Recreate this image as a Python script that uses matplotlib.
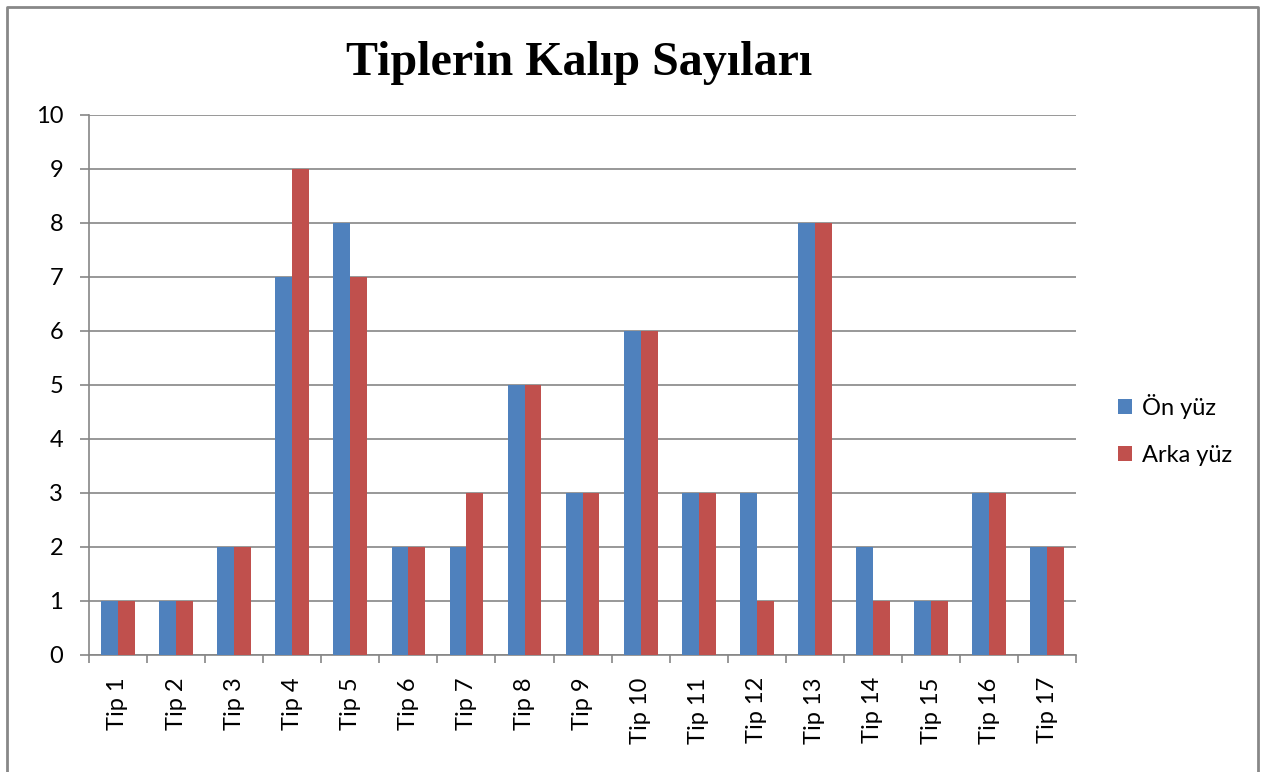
import numpy as np
import matplotlib.pyplot as plt
from matplotlib.lines import Line2D

categories = ["Tip 1", "Tip 2", "Tip 3", "Tip 4", "Tip 5", "Tip 6", "Tip 7", "Tip 8", "Tip 9",
              "Tip 10", "Tip 11", "Tip 12", "Tip 13", "Tip 14", "Tip 15", "Tip 16", "Tip 17"]
on_yuz = [1, 1, 2, 7, 8, 2, 2, 5, 3, 6, 3, 3, 8, 2, 1, 3, 2]
arka_yuz = [1, 1, 2, 9, 7, 2, 3, 5, 3, 6, 3, 1, 8, 1, 1, 3, 2]

blue = "#4F81BD"
red = "#C0504D"
grid_c = "#868686"
font = "Lato"

fig = plt.figure(figsize=(12.69, 7.72), dpi=100)
ax = fig.add_axes([0.0701, 0.1516, 0.778, 0.6995])

x = np.arange(len(categories))
w = 0.29
ax.bar(x - w / 2, on_yuz, w, color=blue, label="Ön yüz", zorder=3)
ax.bar(x + w / 2, arka_yuz, w, color=red, label="Arka yüz", zorder=3)

ax.set_xlim(-0.5, len(categories) - 0.5)
ax.set_ylim(0, 10)
ax.set_yticks(range(0, 11))
ax.yaxis.grid(True, color=grid_c, linewidth=1.2, zorder=0)

ax.set_xticks(x)
ax.set_xticklabels(categories, rotation=90, fontsize=17, family=font)
ax.set_xticks(np.arange(-0.5, len(categories)), minor=True)
ax.tick_params(axis="x", which="major", length=0, pad=16)
ax.tick_params(axis="x", which="minor", length=6, color=grid_c, width=1.2)
ax.tick_params(axis="y", length=6.5, color=grid_c, width=1.2, labelsize=17, pad=12)
for lbl in ax.get_yticklabels():
    lbl.set_family(font)

for s in ["top", "right"]:
    ax.spines[s].set_visible(False)
ax.spines["left"].set_color(grid_c)
ax.spines["bottom"].set_color(grid_c)
ax.spines["left"].set_linewidth(1.2)
ax.spines["bottom"].set_linewidth(1.2)

fig.text(0.456, 0.919, "Tiplerin Kalıp Sayıları", ha="center", va="center",
         fontsize=34.6, fontweight="bold", family="Liberation Serif")

leg = fig.legend(loc="center left", bbox_to_anchor=(0.864, 0.443), frameon=False,
                 prop={"family": font, "size": 17},
                 handlelength=0.6, handleheight=0.6, labelspacing=1.1, handletextpad=0.45)

# chart frame: left, top, right only (bottom is cut off in the reference)
fx = [7 / 1269, 7 / 1269, 1258 / 1269, 1258 / 1269]
fy = [0.0, 1 - 7 / 772, 1 - 7 / 772, 0.0]
fig.lines.append(Line2D(fx, fy, transform=fig.transFigure, color="#888888", linewidth=2))

fig.savefig("out.png", dpi=100)
